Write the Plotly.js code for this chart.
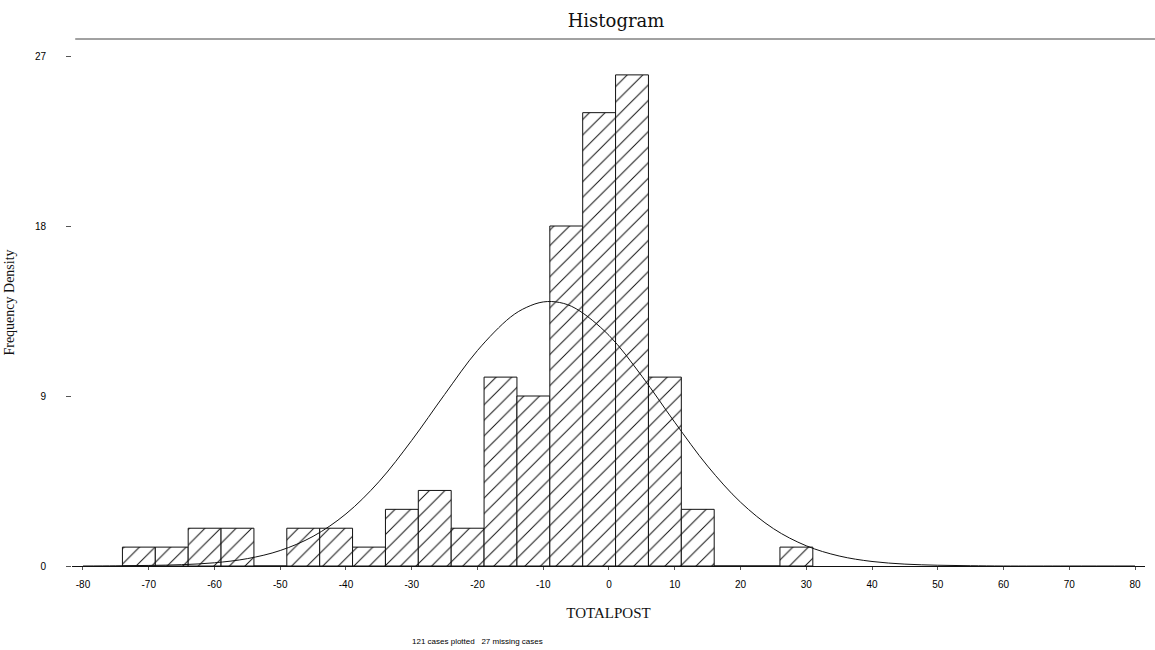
<!DOCTYPE html>
<html>
<head>
<meta charset="utf-8">
<script src="https://cdn.plot.ly/plotly-3.0.1.min.js"></script>
<style>
  html, body { margin: 0; padding: 0; background: #fff; }
  #chart { width: 1155px; height: 650px; }
</style>
</head>
<body>
<div id="chart"></div>
<script>
// Histogram bins (width 5) of TOTALPOST
const binCenters = [-71.5, -66.5, -61.5, -56.5, -51.5, -46.5, -41.5, -36.5, -31.5, -26.5, -21.5,
                    -16.5, -11.5, -6.5, -1.5, 3.5, 8.5, 13.5, 18.5, 23.5, 28.5];
const binCounts  = [1, 1, 2, 2, 0, 2, 2, 1, 3, 4, 2,
                    10, 9, 18, 24, 26, 10, 3, 0, 0, 1];
const binWidth = 5;

// Fitted normal curve
const curveX = [-80, -75, -70, -65, -60, -55, -50, -45, -40, -35, -30, -25, -20, -15,
                -12.5, -10, -7.5, -5, 0, 5, 10, 15, 20, 25, 30, 35, 40, 45, 50, 55, 60, 70, 80];
const curveY = [0.0, 0.01, 0.03, 0.07, 0.17, 0.39, 0.82, 1.57, 2.76, 4.46, 6.65, 9.08, 11.41, 13.17,
                13.7, 13.98, 13.95, 13.62, 12.21, 10.05, 7.61, 5.29, 3.38, 1.98, 1.07, 0.53, 0.24, 0.10, 0.04, 0.015, 0.0, 0.0, 0.0];

const xTickVals = [-80, -70, -60, -50, -40, -30, -20, -10, 0, 10, 20, 30, 40, 50, 60, 70, 80];
const xTickText = ['-80', '-70', '-60', '-50', '-40', '-30', '-20', '-10', '0', '10', '20', '30', '40', '50', '60', '70', '80'];
const yTickVals = [0, 9, 18, 27];
const yTickText = ['0', '9', '18', '27'];

const titleText = 'Histogram';
const xTitle = 'TOTALPOST';
const yTitle = 'Frequency Density';
const footer = '121 cases plotted   27 missing cases';

const bars = {
  type: 'bar',
  x: binCenters,
  y: binCounts,
  width: binCounts.map(() => binWidth),
  marker: {
    color: '#ffffff',
    line: { color: '#111111', width: 1 },
    pattern: { shape: '/', fgcolor: '#111111', bgcolor: '#ffffff', size: 11, solidity: 0.09 }
  },
  hoverinfo: 'x+y',
  showlegend: false
};

const curve = {
  type: 'scatter',
  mode: 'lines',
  x: curveX,
  y: curveY,
  line: { color: '#111111', width: 1, shape: 'spline', smoothing: 1 },
  hoverinfo: 'skip',
  showlegend: false
};

const tickFont = { family: 'Liberation Sans, Arial, sans-serif', size: 10, color: '#000000' };

const layout = {
  width: 1155,
  height: 650,
  paper_bgcolor: '#ffffff',
  plot_bgcolor: '#ffffff',
  margin: { l: 72, r: 10, t: 39, b: 84 },
  bargap: 0,
  title: {
    text: titleText,
    font: { family: 'DejaVu Serif, Liberation Serif, serif', size: 18, color: '#111111' },
    x: 0.507, xref: 'paper', xanchor: 'center',
    y: 0.968, yref: 'container', yanchor: 'middle'
  },
  xaxis: {
    range: [-81.67, 81.52],
    tickmode: 'array',
    tickvals: xTickVals,
    ticktext: xTickText,
    ticks: 'outside',
    ticklen: 3,
    tickcolor: '#555555',
    tickfont: tickFont,
    ticklabelstandoff: 6,
    showgrid: false,
    zeroline: false,
    showline: true,
    linecolor: '#111111',
    linewidth: 1,
    title: {
      text: xTitle,
      font: { family: 'Liberation Serif, Times New Roman, serif', size: 15, color: '#111111' },
      standoff: 18
    }
  },
  yaxis: {
    range: [0, 27.9],
    tickmode: 'array',
    tickvals: yTickVals,
    ticktext: yTickText,
    ticks: 'outside',
    ticklen: 5,
    tickcolor: '#555555',
    tickfont: tickFont,
    ticklabelstandoff: 18,
    showgrid: false,
    zeroline: false,
    showline: false,
    title: {
      text: yTitle,
      font: { family: 'Liberation Serif, Times New Roman, serif', size: 14, color: '#111111' },
      standoff: 16
    }
  },
  shapes: [{
    type: 'line', xref: 'paper', yref: 'paper',
    x0: 0.003, x1: 1.0093, y0: 1, y1: 1,
    line: { color: '#444444', width: 1 }
  }],
  annotations: [{
    text: footer,
    xref: 'paper', yref: 'paper',
    x: 0.3775, y: -0.144,
    xanchor: 'center', yanchor: 'middle',
    showarrow: false,
    font: { family: 'Liberation Sans, Arial, sans-serif', size: 8, color: '#000000' }
  }]
};

Plotly.newPlot('chart', [bars, curve], layout, { displayModeBar: false, staticPlot: true });
</script>
</body>
</html>
